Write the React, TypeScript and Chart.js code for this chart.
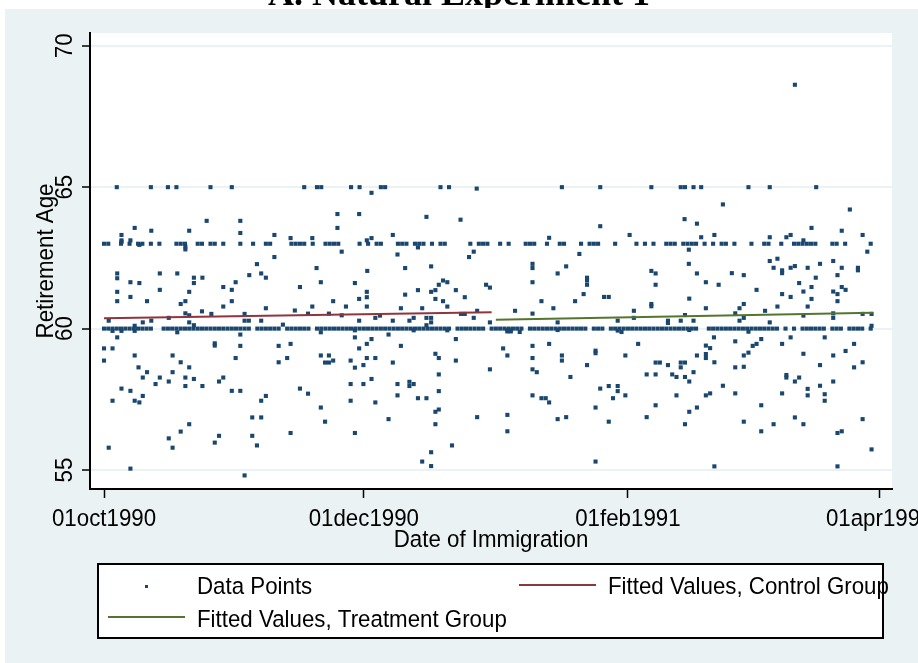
import { useEffect, useRef } from 'react';
import { Chart, registerables } from 'chart.js';

Chart.register(...registerables);

// x values are days since 01oct1990
const tickDays = [0, 61, 123, 182];
const tickLabels = ['01oct1990', '01dec1990', '01feb1991', '01apr1991'];
const yTicks = [55, 60, 65, 70];

// days with a retirement age of exactly 60
const days60 = [0,1,2,3,4,5,6,7,8,9,10,11,14,15,16,17,18,19,20,21,22,23,24,25,26,27,28,29,30,31,32,33,34,36,37,38,39,40,41,43,44,45,46,47,48,50,51,52,53,54,55,56,57,58,59,60,61,62,63,64,65,66,67,68,69,70,71,72,73,74,75,76,77,78,79,80,81,83,84,85,86,87,88,89,91,92,93,94,95,96,97,98,100,101,102,103,104,105,106,107,108,109,110,111,112,113,115,116,117,119,120,121,122,123,124,125,126,127,128,129,130,131,132,133,134,135,136,137,138,139,142,143,144,145,146,147,148,149,150,151,152,153,154,155,156,157,158,160,162,164,165,166,167,168,169,171,172,173,175,176,177,178,180];

// days with a retirement age of exactly 63
const days63 = [0,1,4,6,8,9,11,13,17,18,19,22,23,25,26,28,32,35,38,39,44,45,46,47,49,52,53,54,55,60,62,64,65,69,70,71,73,74,75,77,79,80,86,88,89,90,93,95,99,100,101,104,107,108,112,114,115,116,120,125,127,129,132,133,134,136,137,138,139,141,143,145,146,148,152,155,156,159,162,163,164,165,166,167,171,172,174,180];

// days with a retirement age of exactly 65
const days65 = [3,11,15,17,25,30,47,50,51,58,60,65,66,79,81,107.5,116.5,128.5,135.4,136.4,138.4,140.2,151.3,156.3,167.2];

// remaining observations: [day, age]
const scatteredPoints: [number, number][] = [
  [24.1,63.81],[32.0,63.81],[32.0,63.38],[4.1,63.31],[4.1,63.12],[4.1,63.07],[7.2,63.56],[6.2,63.12],[11.1,63.46],[20.0,63.46],[19.1,62.9],[19.1,62.8],[8.3,62.96],[40.0,63.31],[43.8,63.2],[40.0,62.53],[35.9,62.28],[3.1,61.95],[3.1,61.78],[3.1,61.3],[3.1,60.97],[6.2,61.64],[8.3,61.61],[6.2,61.12],[10.1,60.97],[13.1,61.95],[13.1,61.37],[17.2,61.95],[18.0,60.87],[19.1,60.97],[20.0,61.3],[21.1,61.8],[21.1,61.61],[23.1,61.8],[19.1,60.54],[20.0,60.47],[20.0,60.22],[21.1,60.12],[23.0,60.61],[25.2,60.52],[28.0,61.47],[28.0,60.78],[30.0,61.37],[30.0,60.97],[30.9,61.64],[34.1,61.89],[36.9,61.95],[38.0,61.8],[38.0,60.72],[33.0,60.52],[33.0,60.28],[34.0,60.28],[36.9,60.28],[42.0,60.14],[44.8,60.64],[46.0,61.47],[1.1,60.28],[9.1,60.22],[11.1,60.28],[15.2,60.38],[2.0,59.92],[4.1,59.92],[7.2,59.92],[7.2,60.1],[17.2,59.87],[3.1,59.69],[32.0,59.79],[26.0,59.48],[26.0,59.4],[32.0,59.39],[41.0,59.39],[43.8,59.46],[0.0,59.3],[2.0,59.3],[0.0,58.87],[7.2,59.05],[16.1,59.05],[18.0,58.81],[30.9,58.96],[41.0,58.81],[43.0,58.96],[8.1,58.63],[10.1,58.46],[9.1,58.27],[13.1,58.27],[12.1,58.04],[15.2,58.13],[16.1,58.46],[19.1,58.27],[19.1,57.97],[20.0,58.63],[21.1,58.22],[23.1,57.97],[27.0,58.13],[28.0,58.27],[4.1,57.88],[6.2,57.8],[30.0,57.8],[32.0,57.8],[2.0,57.45],[7.2,57.45],[8.3,57.39],[9.1,57.62],[36.9,57.45],[38.0,57.62],[46.0,57.88],[34.8,56.86],[36.9,56.86],[20.0,56.62],[18.0,56.36],[15.2,56.12],[16.1,55.79],[1.1,55.79],[26.0,55.97],[27.0,56.21],[34.8,56.21],[35.9,55.87],[43.8,56.31],[6.2,55.05],[33.0,54.81],
  [54.8,64.05],[59.9,64.05],[54.8,63.56],[75.7,63.95],[83.7,63.85],[48.9,63.2],[61.7,63.12],[62.8,63.2],[67.8,63.31],[73.7,62.87],[55.8,62.72],[68.9,62.62],[85.7,62.53],[86.8,62.72],[49.9,62.14],[61.8,62.04],[70.7,62.14],[76.8,62.2],[50.9,61.64],[58.9,61.61],[61.7,61.3],[61.7,61.11],[59.9,61.05],[73.7,61.36],[76.8,61.3],[77.8,61.36],[78.6,61.55],[79.6,61.7],[80.6,61.64],[82.6,61.36],[84.7,61.11],[89.7,61.55],[90.6,61.45],[77.8,61.05],[79.6,60.97],[70.7,61.2],[53.8,60.97],[48.9,60.78],[56.8,60.78],[61.7,60.78],[80.6,60.78],[47.9,60.53],[52.8,60.53],[55.8,60.47],[63.7,60.38],[64.8,60.46],[69.7,60.72],[74.7,60.72],[59.9,60.28],[67.8,60.28],[71.7,60.28],[72.7,60.38],[75.7,60.38],[76.8,60.38],[76.8,60.22],[83.8,60.52],[84.7,60.52],[86.8,60.38],[90.6,60.22],[87.6,60.63],[75.7,60.12],[50.9,59.87],[58.9,59.94],[58.9,59.69],[66.8,59.79],[72.7,59.94],[80.6,59.94],[62.8,59.63],[61.7,59.46],[59.9,59.3],[69.7,59.39],[82.6,59.63],[77.8,59.11],[78.6,58.96],[50.9,59.05],[52.8,59.05],[51.9,58.8],[52.8,58.8],[53.8,58.87],[57.9,58.87],[58.9,58.62],[60.9,58.71],[61.7,58.96],[63.7,58.96],[67.8,58.8],[82.6,58.87],[90.6,58.56],[78.6,58.38],[62.8,58.22],[57.9,58.04],[60.9,58.04],[68.9,58.04],[71.7,58.12],[71.7,57.97],[72.7,58.04],[78.6,57.79],[47.9,57.7],[57.9,57.45],[63.7,57.39],[68.9,57.64],[73.7,57.54],[75.7,57.54],[50.9,57.21],[77.8,57.06],[78.6,57.14],[51.9,56.71],[66.8,56.8],[77.8,56.62],[87.6,56.87],[58.9,56.31],[81.7,55.87],[76.8,55.63],[74.7,55.3],[76.8,55.14],[62.8,64.8],[87.5,64.95],
  [136.3,63.87],[139.2,63.71],[116.5,63.62],[123.4,63.31],[104.5,63.21],[137.3,62.79],[111.6,62.64],[100.6,62.29],[100.6,62.14],[108.5,62.2],[137.3,62.29],[128.5,62.04],[129.5,61.95],[106.5,61.95],[139.2,61.95],[113.4,61.8],[113.4,61.7],[113.4,61.55],[129.5,61.55],[100.6,61.64],[112.6,61.22],[117.4,61.12],[118.5,61.12],[137.4,61.06],[102.7,60.97],[110.6,60.97],[128.5,60.87],[128.5,60.79],[96.5,60.63],[105.5,60.72],[124.4,60.63],[100.6,60.53],[136.4,60.48],[124.4,60.38],[106.5,60.22],[120.6,60.28],[132.4,60.28],[132.4,60.2],[135.4,60.28],[138.4,60.28],[94.7,59.94],[95.5,59.94],[94.7,59.9],[95.5,59.9],[97.6,59.88],[106.5,59.95],[120.6,59.93],[121.5,59.88],[137.4,59.95],[93.7,59.3],[100.6,59.39],[104.5,59.46],[125.4,59.46],[94.7,59.05],[100.6,58.96],[107.5,59.05],[107.5,58.87],[115.4,59.22],[115.4,59.13],[122.4,59.05],[139.2,59.05],[100.6,58.56],[101.6,58.46],[113.4,58.71],[129.5,58.8],[130.5,58.8],[132.4,58.71],[135.4,58.8],[135.4,58.63],[136.4,58.8],[127.4,58.38],[129.5,58.38],[133.4,58.38],[134.4,58.29],[136.4,58.29],[137.4,58.13],[138.4,58.46],[109.5,58.29],[116.5,57.88],[118.5,57.97],[120.6,57.97],[120.6,57.79],[100.6,57.64],[102.7,57.54],[103.7,57.54],[104.5,57.39],[119.5,57.54],[122.4,57.64],[134.4,57.64],[139.2,57.21],[129.5,57.29],[115.4,57.21],[94.7,56.95],[106.5,56.8],[108.5,56.87],[127.4,56.87],[137.4,57.06],[118.5,56.71],[136.4,56.62],[94.7,56.37],[115.4,55.3],
  [162.2,68.62],[145.3,64.39],[175.1,64.21],[166.1,63.56],[173.2,63.46],[140.2,63.23],[143.3,63.31],[156.3,63.23],[160.2,63.23],[161.2,63.31],[164.2,63.12],[178.1,63.31],[179.2,62.72],[156.3,62.39],[158.1,62.47],[157.2,62.15],[159.2,62.06],[159.2,61.96],[161.2,62.15],[162.2,62.21],[165.2,62.15],[168.1,62.29],[171.2,62.39],[173.2,62.15],[177.0,62.15],[177.0,62.06],[147.4,61.96],[150.2,61.89],[167.1,61.8],[172.2,61.89],[141.3,61.64],[144.3,61.55],[163.2,61.61],[173.2,61.47],[174.1,61.37],[166.1,61.47],[164.2,61.31],[171.2,61.31],[172.2,61.22],[153.2,61.37],[159.2,61.22],[161.2,61.12],[158.1,60.78],[165.2,60.78],[172.2,60.97],[166.1,61.05],[141.3,60.72],[149.2,60.72],[150.2,60.87],[155.2,60.63],[148.2,60.54],[149.2,60.28],[150.2,60.38],[164.2,60.46],[171.2,60.54],[171.2,60.38],[156.3,60.22],[178.1,60.52],[180.2,60.52],[180.2,60.1],[143.2,59.69],[148.2,59.55],[151.3,59.89],[154.3,59.63],[153.2,59.46],[152.3,59.39],[161.2,59.69],[159.2,59.46],[169.2,59.69],[176.1,59.46],[141.3,59.4],[141.3,59.1],[141.3,58.96],[142.3,59.31],[143.3,58.81],[150.2,59.05],[150.2,58.65],[151.3,59.15],[164.2,59.11],[171.2,59.05],[174.1,59.21],[148.2,58.63],[168.1,58.71],[176.1,58.63],[178.1,58.81],[160.2,58.36],[160.2,58.27],[162.2,58.13],[163.2,58.27],[165.2,57.87],[165.2,57.64],[168.1,57.98],[169.2,57.68],[169.2,57.45],[171.2,58.13],[145.3,57.98],[141.3,57.64],[142.3,57.71],[148.2,57.71],[159.2,57.71],[154.3,57.29],[150.2,56.71],[157.2,56.62],[162.2,56.86],[164.2,56.62],[178.1,56.8],[154.3,56.37],[172.2,56.31],[173.2,56.37],[180.2,55.73],[143.3,55.13],[172.2,55.13],
];

const controlFitDays = [0, 91];
const controlFitAges = [60.37, 60.58];
const treatFitDays = [92, 180.5];
const treatFitAges = [60.31, 60.56];

const NAVY = '#1a476f';
const MAROON = '#90353b';
const GREEN = '#55752f';
const BG = 'rgb(234,242,243)';
const FONT = '22.3px "Liberation Sans", Arial, sans-serif';
const STRETCH = 1.07;

function drawText(ctx: CanvasRenderingContext2D, text: string, x: number, y: number, align: CanvasTextAlign, rotated: boolean) {
  ctx.save();
  ctx.translate(x, y);
  if (rotated) ctx.rotate(-Math.PI / 2);
  ctx.scale(1, STRETCH);
  ctx.textAlign = align;
  ctx.textBaseline = 'alphabetic';
  ctx.fillText(text, 0, 0);
  ctx.restore();
}

const stataPlugin = {
  id: 'stataLook',
  beforeDraw(chart: any) {
    const { ctx, chartArea: a, width, height } = chart;
    ctx.save();
    ctx.fillStyle = '#fff';
    ctx.fillRect(0, 0, width, height);
    ctx.save();
    ctx.beginPath();
    ctx.rect(0, 0, width, 8);
    ctx.clip();
    ctx.fillStyle = '#000';
    ctx.font = 'bold 36px "Liberation Serif", "DejaVu Serif", serif';
    ctx.textAlign = 'center';
    ctx.textBaseline = 'alphabetic';
    ctx.fillText('A. Natural Experiment 1', 459, 5);
    ctx.restore();
    ctx.fillStyle = BG;
    ctx.fillRect(5, 9, width - 5, height - 9);
    ctx.fillStyle = '#fff';
    ctx.fillRect(a.left, a.top, a.right - a.left, a.bottom - a.top);
    ctx.restore();
  },
  afterDraw(chart: any) {
    const { ctx, chartArea: a } = chart;
    const xs = chart.scales.x;
    const ys = chart.scales.y;
    ctx.save();
    ctx.fillStyle = '#000';
    ctx.font = FONT;
    tickDays.forEach((d, i) => {
      drawText(ctx, tickLabels[i], xs.getPixelForValue(d), a.bottom + 37, 'center', false);
    });
    drawText(ctx, 'Date of Immigration', (a.left + a.right) / 2, a.bottom + 58, 'center', false);
    yTicks.forEach((v) => {
      drawText(ctx, String(v), a.left - 18, ys.getPixelForValue(v), 'center', true);
    });
    drawText(ctx, 'Retirement Age', a.left - 37, (a.top + a.bottom) / 2, 'center', true);

    // legend
    const lx = 98, ly = 564, lw = 785, lh = 74;
    ctx.fillStyle = '#fff';
    ctx.fillRect(lx, ly, lw, lh);
    ctx.strokeStyle = '#000';
    ctx.lineWidth = 2;
    ctx.strokeRect(lx, ly, lw, lh);
    ctx.fillStyle = NAVY;
    ctx.fillRect(145, 585, 3, 3);
    ctx.lineWidth = 2;
    ctx.strokeStyle = MAROON;
    ctx.beginPath();
    ctx.moveTo(519, 585);
    ctx.lineTo(596, 585);
    ctx.stroke();
    ctx.strokeStyle = GREEN;
    ctx.beginPath();
    ctx.moveTo(108, 617);
    ctx.lineTo(185, 617);
    ctx.stroke();
    ctx.fillStyle = '#000';
    drawText(ctx, 'Data Points', 197, 594, 'left', false);
    drawText(ctx, 'Fitted Values, Control Group', 608, 594, 'left', false);
    drawText(ctx, 'Fitted Values, Treatment Group', 197, 627, 'left', false);
    ctx.restore();
  },
};

export default function App() {
  const ref = useRef<HTMLCanvasElement | null>(null);
  useEffect(() => {
    document.body.style.margin = '0';
    const canvas = ref.current;
    if (!canvas) return;
    const points = [
      ...days60.map((d) => ({ x: d, y: 60 })),
      ...days63.map((d) => ({ x: d, y: 63 })),
      ...days65.map((d) => ({ x: d, y: 65 })),
      ...scatteredPoints.map(([d, v]) => ({ x: d, y: v })),
    ];
    const controlFit = controlFitDays.map((d, i) => ({ x: d, y: controlFitAges[i] }));
    const treatFit = treatFitDays.map((d, i) => ({ x: d, y: treatFitAges[i] }));
    const chart = new Chart(canvas, {
      type: 'scatter',
      data: {
        datasets: [
          {
            label: 'Data Points',
            data: points,
            pointStyle: 'rect',
            pointRadius: 2.9,
            pointBackgroundColor: NAVY,
            pointBorderWidth: 0,
            showLine: false,
            order: 2,
          } as any,
          {
            label: 'Fitted Values, Control Group',
            data: controlFit,
            showLine: true,
            borderColor: MAROON,
            borderWidth: 2,
            pointRadius: 0,
            order: 1,
          } as any,
          {
            label: 'Fitted Values, Treatment Group',
            data: treatFit,
            showLine: true,
            borderColor: GREEN,
            borderWidth: 2,
            pointRadius: 0,
            order: 1,
          } as any,
        ],
      },
      options: {
        responsive: false,
        animation: false,
        devicePixelRatio: 1,
        layout: { padding: { top: 33, right: 26, left: 0, bottom: 0 } },
        plugins: {
          legend: { display: false },
          tooltip: { enabled: false },
          title: { display: false },
        },
        scales: {
          x: {
            type: 'linear',
            min: -3.29,
            max: 185,
            afterBuildTicks: (s: any) => {
              s.ticks = tickDays.map((v) => ({ value: v }));
            },
            afterFit: (s: any) => {
              s.height = 174;
            },
            ticks: { display: false },
            grid: { drawOnChartArea: false, tickColor: '#000', tickLength: 9, tickWidth: 1.5 },
            border: { color: '#000', width: 2 },
          },
          y: {
            type: 'linear',
            min: 54.33,
            max: 70.45,
            afterBuildTicks: (s: any) => {
              s.ticks = yTicks.map((v) => ({ value: v }));
            },
            afterFit: (s: any) => {
              s.width = 90;
            },
            ticks: { display: false },
            grid: { color: BG, lineWidth: 2, tickColor: '#000', tickLength: 8, tickWidth: 1.5 },
            border: { color: '#000', width: 2 },
          },
        },
      } as any,
      plugins: [stataPlugin],
    });
    return () => chart.destroy();
  }, []);
  return <canvas ref={ref} width={918} height={663} style={{ display: 'block' }} />;
}
